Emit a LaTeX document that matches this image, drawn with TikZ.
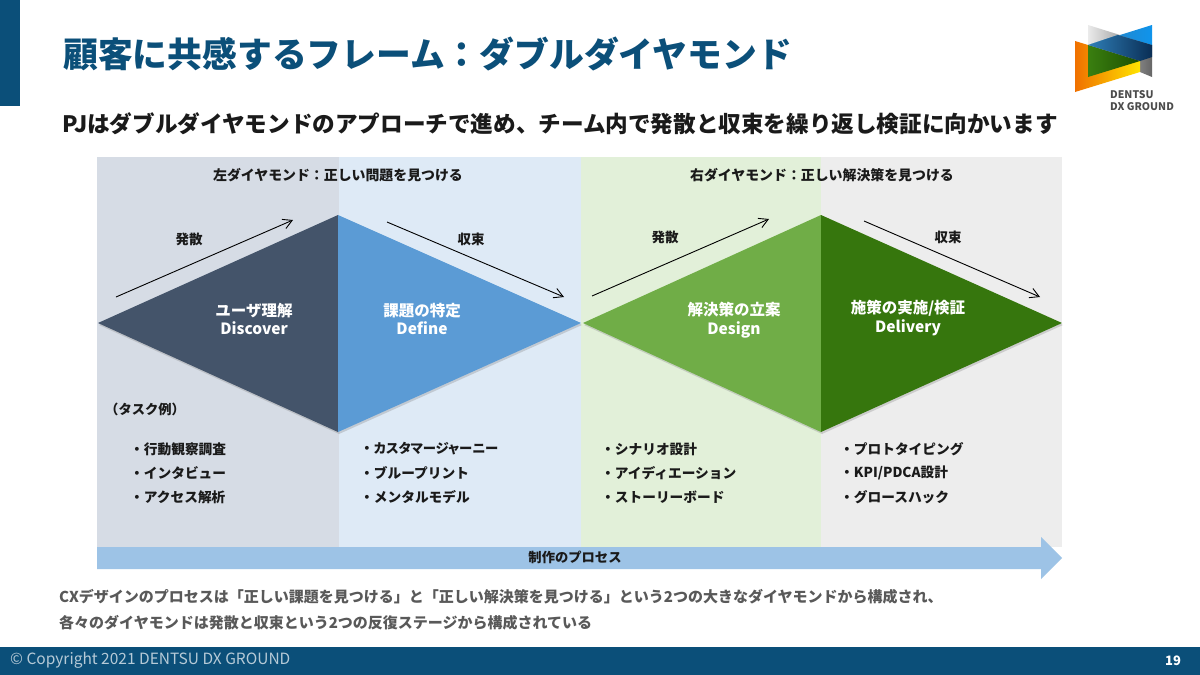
\documentclass[tikz,border=0pt]{standalone}
\usepackage{fontspec}
\usepackage{xcolor}
\usepackage{tikz}
\usetikzlibrary{arrows.meta, positioning, calc, shadows}
\setmainfont{Noto Sans CJK JP}
\newfontfamily\narrowkana[RawFeature=+palt]{Noto Sans CJK JP}
\definecolor{dxnavy}{HTML}{0B4F79}
\definecolor{dxink}{HTML}{1A1A1A}
\definecolor{dxnote}{HTML}{595959}
\definecolor{panelslate}{HTML}{D6DCE5}
\definecolor{panelblue}{HTML}{DEEAF6}
\definecolor{panelgreen}{HTML}{E2F0D9}
\definecolor{panelgray}{HTML}{EDEDED}
\definecolor{wedgeslate}{HTML}{44546A}
\definecolor{wedgeblue}{HTML}{5B9BD5}
\definecolor{wedgegreen}{HTML}{70AD47}
\definecolor{wedgedark}{HTML}{36760D}
\definecolor{processblue}{HTML}{9DC3E6}
\definecolor{logoorange}{HTML}{F07000}
\definecolor{logoyellow}{HTML}{FFE400}
\definecolor{logogreenl}{HTML}{3A7F10}
\definecolor{logogreend}{HTML}{1C4E00}
\definecolor{logobluel}{HTML}{2F7FB8}
\definecolor{logoblued}{HTML}{0A2E55}
\definecolor{logobluet}{HTML}{0F94EC}
\newcommand{\px}[1]{\fontsize{#1}{#1}\selectfont}

\begin{document}
\begin{tikzpicture}[
  x=1pt, y=-1pt,
  panel/.style={
    anchor=north west,
    inner sep=0pt,
    outer sep=0pt,
    minimum height=390pt
  },
  wedge/.style={
    drop shadow={shadow xshift=1pt, shadow yshift=-2pt, opacity=0.3}
  },
  wedgelabel/.style={font=\px{15.5}\bfseries, text=white, align=center},
  stagehead/.style={font=\px{13.9}\bfseries, text=dxink},
  flowname/.style={font=\px{13.5}\bfseries, text=dxink},
  task/.style={font=\px{13.7}\bfseries, text=dxink, anchor=west, inner sep=0pt},
  note/.style={font=\px{15}\bfseries, text=dxnote, anchor=west, inner sep=0pt},
  flow/.style={-{Straight Barb[length=9pt, width=10pt]}, line width=0.9pt, draw=black}
]
\useasboundingbox (0,0) rectangle (1200,675);
\fill[white] (0,0) rectangle (1200,675);

% header and footer
\node[fill=dxnavy, anchor=north west, inner sep=0pt, minimum width=20pt, minimum height=106pt] (tab) at (0,0) {};
\node[fill=dxnavy, anchor=north west, inner sep=0pt, minimum width=1200pt, minimum height=28pt] (footer) at (0,647) {};
\node[font=\px{34.8}\bfseries, text=dxnavy, anchor=west, inner sep=0pt] (title) at (63,54)
{顧客に共感するフレーム：ダブルダイヤモンド};
\node[font=\px{22.6}\bfseries, text=dxink, anchor=west, inner sep=0pt] (lead) at (62,124)
{PJはダブルダイヤモンドのアプローチで進め、チーム内で発散と収束を繰り返し検証に向かいます};
\node[font=\px{15.5}, text=white!70!dxnavy, anchor=west, inner sep=0pt] (copyright) at (10,660)
{© Copyright 2021 DENTSU DX GROUND};
\node[font=\px{13}\bfseries, text=white, inner sep=0pt] (pageno) at (1173,661) {19};

% logo
\shade[left color=black!8, right color=black!60] (1088,25) -- (1152,45) -- (1152,77) -- (1140,72) -- (1088,44) -- cycle;
\shade[left color=logoorange, right color=logoyellow] (1075,41) -- (1140,61) -- (1140,72) -- (1075,92) -- cycle;
\shade[left color=logogreenl, right color=logogreend] (1088,45) -- (1140,61) -- (1088,77) -- cycle;
\shade[left color=logobluel, right color=logobluet] (1088,45) -- (1152,25) -- (1152,45) -- (1118,35) -- cycle;
\shade[left color=logobluel, right color=logoblued] (1088,45) -- (1118,35) -- (1152,45) -- (1152,57) -- (1140,61) -- cycle;
\node[font=\px{10.5}\bfseries, text=black!70, anchor=north west, inner sep=0pt, align=left] (logotext) at (1110,90) {DENTSU\\[1.5pt]DX GROUND};

% panels
\node[panel, fill=panelslate, minimum width=242pt] (discover) at (97,157) {};
\node[panel, fill=panelblue, minimum width=242pt, right=0pt of discover] (define) {};
\node[panel, fill=panelgreen, minimum width=240pt, right=0pt of define] (design) {};
\node[panel, fill=panelgray, minimum width=241pt, right=0pt of design] (delivery) {};

\node[stagehead] (lefthead) at (338,175) {左ダイヤモンド：正しい問題を見つける};
\node[stagehead] (righthead) at (822,175) {右ダイヤモンド：正しい解決策を見つける};

% diamonds
\coordinate (tipa) at (98,323);
\coordinate (topa) at (338,215);
\coordinate (bota) at (338,432);
\coordinate (tipb) at (581,323);
\coordinate (tipc) at (583,323);
\coordinate (topb) at (821,215);
\coordinate (botb) at (821,432);
\coordinate (tipd) at (1062,323);
\fill[wedge, wedgeslate] (tipa) -- (topa) -- (bota) -- cycle;
\fill[wedge, wedgeblue] (topa) -- (tipb) -- (bota) -- cycle;
\fill[wedge, wedgegreen] (tipc) -- (topb) -- (botb) -- cycle;
\fill[wedge, wedgedark] (topb) -- (tipd) -- (botb) -- cycle;

\node[wedgelabel] (labela) at (254,319) {ユーザ理解\\[3pt]Discover};
\node[wedgelabel] (labelb) at (422,319) {課題の特定\\[3pt]Define};
\node[wedgelabel] (labelc) at (734,320) {解決策の立案\\[3pt]Design};
\node[wedgelabel] (labeld) at (908,318) {施策の実施/検証\\[3pt]Delivery};

% flows
\coordinate (fa1) at (116,297);
\coordinate (fa2) at (293,220);
\coordinate (fb1) at (387,222);
\coordinate (fb2) at (564,297);
\coordinate (fc1) at (592,296);
\coordinate (fc2) at (769,219);
\coordinate (fd1) at (864,221);
\coordinate (fd2) at (1040,297);
\draw[flow] (fa1) -- (fa2);
\draw[flow] (fb1) -- (fb2);
\draw[flow] (fc1) -- (fc2);
\draw[flow] (fd1) -- (fd2);
\node[flowname] (fname1) at (189,239) {発散};
\node[flowname] (fname2) at (471,239) {収束};
\node[flowname] (fname3) at (665,237) {発散};
\node[flowname] (fname4) at (948,237) {収束};

% tasks
\node[task, font=\px{13.3}\bfseries] (taskhead) at (105,409) {（タスク例）};
\node[task] (a1) at (130,449) {・行動観察調査};
\node[task] (a2) at (130,473) {・インタビュー};
\node[task] (a3) at (130,497) {・アクセス解析};
\node[task] (b1) at (360,449) {・{\narrowkana\px{13.3}\bfseries カスタマージャーニー}};
\node[task] (b2) at (360,473) {・ブループリント};
\node[task] (b3) at (360,497) {・メンタルモデル};
\node[task] (c1) at (601,449) {・シナリオ設計};
\node[task] (c2) at (601,473) {・アイディエーション};
\node[task] (c3) at (601,497) {・ストーリーボード};
\node[task] (d1) at (840,449) {・プロトタイピング};
\node[task] (d2) at (840,473) {・KPI/PDCA設計};
\node[task] (d3) at (840,497) {・グロースハック};

% process arrow
\fill[processblue] (97,547) -- (1041,547) -- (1041,537) -- (1062,558) -- (1041,579) -- (1041,569) -- (97,569) -- cycle;
\node[font=\px{13.3}\bfseries, text=dxink, inner sep=0pt] (process) at (575,557) {制作のプロセス};

% notes
\node[note] (note1) at (59,597) {CXデザインのプロセスは「正しい課題を見つける」と「正しい解決策を見つける」という2つの大きなダイヤモンドから構成され、};
\node[note] (note2) at (59,623) {各々のダイヤモンドは発散と収束という2つの反復ステージから構成されている};
\end{tikzpicture}
\end{document}
